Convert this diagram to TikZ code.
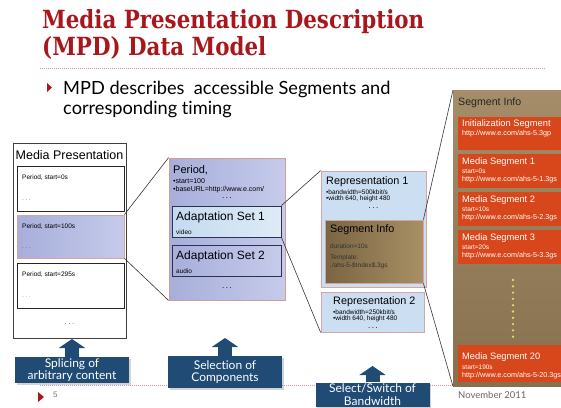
\documentclass[tikz,border=0pt]{standalone}
\usepackage{fontspec}
\setmainfont{Liberation Sans}
\newfontfamily\gillfont{Lato}[Ligatures=NoCommon]
\newfontfamily\slabfont{DejaVu Serif}
\usetikzlibrary{arrows.meta, shadows}
\newcommand{\fsz}[1]{\fontsize{#1}{#1}\selectfont}
\newcommand{\more}{.\hspace{1.6pt}.\hspace{1.6pt}.}
\definecolor{titlered}{HTML}{A8171C}
\definecolor{perdark}{HTML}{A7AEDA}
\definecolor{perlight}{HTML}{C6CBEA}
\definecolor{edgepink}{HTML}{D7A4A4}
\definecolor{navy}{HTML}{27344F}
\definecolor{adaptblue}{HTML}{C4DAF0}
\definecolor{repblue}{HTML}{CBDEF2}
\definecolor{browndark}{HTML}{7A6543}
\definecolor{brownlight}{HTML}{A88F64}
\definecolor{coltop}{HTML}{A48D68}
\definecolor{colbot}{HTML}{86704E}
\definecolor{segorange}{HTML}{D8471B}
\definecolor{dotyellow}{HTML}{EAD66C}
\definecolor{labelblue}{HTML}{1F4B74}

\begin{document}
\begin{tikzpicture}[x=1pt, y=-1pt,
    txt/.style={anchor=west, inner sep=0pt},
    tiny/.style={txt, font=\fsz{6.5}},
    period/.style={draw=black!85, line width=0.9pt, inner sep=0pt},
    chosen/.style={draw=edgepink, line width=0.8pt, inner sep=0pt, left color=perdark, right color=perlight},
    adapt/.style={draw=navy, line width=0.9pt, inner sep=0pt},
    rep/.style={draw=edgepink, line width=0.8pt, inner sep=0pt, fill=repblue},
    chunk/.style={anchor=north west, inner sep=0pt, fill=segorange, minimum width=110pt},
    chunktxt/.style={txt, text=white},
    tag/.style={fill=labelblue, text=white, font=\gillfont\fontsize{12}{12.5}\selectfont, align=center, inner sep=0pt,
        minimum width=114pt, drop shadow={opacity=0.35, shadow xshift=1.5pt, shadow yshift=-1.5pt}},
    lift/.style={labelblue, line width=14pt, -{Triangle[length=9pt, width=26pt]}},
    link/.style={black!80, line width=0.6pt}
]
    \useasboundingbox (0,0) rectangle (561,407);

    % Heading
    \node[anchor=base west, inner sep=0pt, text=titlered, font=\slabfont\bfseries\fsz{25}] (title1) at (42,28)
        {\scalebox{0.855}[1]{Media Presentation Description}};
    \node[anchor=base west, inner sep=0pt, text=titlered, font=\slabfont\bfseries\fsz{25}] (title2) at (42,55)
        {\scalebox{0.855}[1]{(MPD) Data Model}};
    \draw[titlered!45, dash pattern=on 1pt off 1pt] (40,68) -- (545,68);

    \fill[titlered] (47,83) -- (52,87.5) -- (47,92) -- cycle;
    \node[anchor=base west, inner sep=0pt, font=\gillfont\fsz{18.2}] (intro1) at (63,94) {MPD describes\ \ accessible Segments and};
    \node[anchor=base west, inner sep=0pt, font=\gillfont\fsz{18.2}] (intro2) at (63,114) {corresponding timing};

    % Footer line
    \draw[titlered!45, dash pattern=on 1pt off 1pt] (40,385) -- (545,385);

    % Media presentation with its periods
    \node[draw=black!75, line width=1pt, inner sep=0pt, minimum width=113pt, minimum height=195pt] (mp) at (69.5,240.5) {};
    \node[font=\fsz{12.5}, inner sep=0pt] (mptitle) at (69.5,155) {Media Presentation};
    \node[period, minimum width=107pt, minimum height=45pt] (per1) at (70.5,188.5) {};
    \node[tiny] (per1a) at (22,178) {Period, start=0s};
    \node[tiny, text=black!60] (per1b) at (22,200) {\more};
    \node[chosen, minimum width=107pt, minimum height=43pt] (per2) at (70.5,236.5) {};
    \node[tiny] (per2a) at (22,227) {Period, start=100s};
    \node[tiny, text=black!60] (per2b) at (22,248) {\more};
    \node[period, minimum width=107pt, minimum height=45pt] (per3) at (70.5,285.5) {};
    \node[tiny] (per3a) at (22,275) {Period, start=295s};
    \node[tiny, text=black!45] (per3b) at (22,297) {\more};
    \node[font=\fsz{8}, text=black!60, inner sep=0pt] (mpmore) at (69.5,324) {\more};

    % One period opened up
    \node[chosen, draw=edgepink!80!brown, minimum width=116pt, minimum height=142pt] (period) at (227,229) {};
    \node[txt, font=\fsz{11}] (pername) at (173,170) {Period,};
    \node[txt, font=\fsz{7}] (perstart) at (173,181) {\textbullet start=100};
    \node[txt, font=\fsz{7}] (perurl) at (173,189.5) {\textbullet baseURL=http://www.e.com/};
    \node[font=\fsz{8}, inner sep=0pt] (permore) at (227,198.5) {\more};
    \node[adapt, left color=adaptblue, right color=adaptblue!55!white, minimum width=109pt, minimum height=31pt] (as1) at (226.5,221.5) {};
    \node[txt, font=\fsz{12}] (as1name) at (176,217) {Adaptation Set 1};
    \node[tiny] (as1kind) at (176,232) {video};
    \node[adapt, left color=perdark, right color=perlight, minimum width=109pt, minimum height=31pt] (as2) at (226.5,260.5) {};
    \node[txt, font=\fsz{12}] (as2name) at (176,256) {Adaptation Set 2};
    \node[tiny] (as2kind) at (176,271) {audio};
    \node[font=\fsz{8}, inner sep=0pt] (asmore) at (227,288) {\more};

    % Representations
    \node[rep, minimum width=105pt, minimum height=116pt] (rep1) at (373.5,229) {};
    \node[txt, font=\fsz{10.8}] (rep1name) at (326,182) {Representation 1};
    \node[tiny] (rep1bw) at (326,192) {\textbullet bandwidth=500kbit/s};
    \node[tiny] (rep1res) at (326,199) {\textbullet width 640, height 480};
    \node[font=\fsz{8}, inner sep=0pt] (rep1more) at (373.5,208) {\more};
    \node[draw=edgepink, line width=0.8pt, inner sep=0pt, left color=browndark, right color=brownlight,
        minimum width=98pt, minimum height=63pt] (seginfo) at (374,251.5) {};
    \node[txt, font=\fsz{10.8}] (seginame) at (330,230) {Segment Info};
    \node[tiny, text=black!80] (segidur) at (330,246) {duration=10s};
    \node[tiny, text=black!80] (segitpl) at (330,258) {Template:};
    \node[tiny, text=black!80] (segipath) at (330,266) {./ahs-5-\$Index\$.3gs};
    \node[rep, minimum width=103pt, minimum height=40pt] (rep2) at (372.5,312) {};
    \node[txt, font=\fsz{10.8}] (rep2name) at (333,302) {Representation 2};
    \node[tiny] (rep2bw) at (333,312) {\textbullet bandwidth=250kbit/s};
    \node[tiny] (rep2res) at (333,319) {\textbullet width 640, height 480};
    \node[font=\fsz{8}, inner sep=0pt] (rep2more) at (373,328) {\more};

    % Segment list
    \node[anchor=north west, inner sep=0pt, top color=coltop, bottom color=colbot,
        minimum width=115pt, minimum height=296pt] (segcol) at (453,90) {};
    \node[txt, font=\fsz{10.6}, text=black!85] (colname) at (458,103) {Segment Info};
    \node[chunk, minimum height=33pt] (init) at (458,117) {};
    \node[chunktxt, font=\fsz{9.3}] (initname) at (462,124) {Initialization Segment};
    \node[chunktxt, font=\fsz{7.2}] (initurl) at (462,134) {http://www.e.com/ahs-5.3gp};
    \foreach \n/\t/\s in {1/154/0, 2/192/10, 3/230/20} {
        \node[chunk, minimum height=34pt] (seg\n) at (458,\t) {};
        \node[chunktxt, font=\fsz{9.3}] (seg\n name) at (462,\t+8) {Media Segment \n};
        \node[chunktxt, font=\fsz{6.5}] (seg\n start) at (462,\t+17) {start=\s s};
        \node[chunktxt, font=\fsz{7.2}] (seg\n url) at (462,\t+26) {http://www.e.com/ahs-5-\n.3gs};
    }
    \foreach \k in {0,...,9}
        \fill[dotyellow] (513,280+6.3*\k) circle (1.3pt);
    \node[chunk, minimum height=37pt] (seg20) at (458,345) {};
    \node[chunktxt, font=\fsz{9.3}] (seg20name) at (462,357) {Media Segment 20};
    \node[chunktxt, font=\fsz{6.5}] (seg20start) at (462,367) {start=190s};
    \node[chunktxt, font=\fsz{7.2}] (seg20url) at (462,376) {http://www.e.com/ahs-5-20.3gs};

    % Zoom lines
    \draw[link] (per2.north east) -- (period.north west);
    \draw[link] (per2.south east) -- (period.south west);
    \draw[link] (as1.north east) -- (rep1.north west);
    \draw[link] (as1.south east) -- (rep2.south west);
    \draw[link] (seginfo.north east) -- (segcol.north west);
    \draw[link] (seginfo.south east) -- (segcol.south west);

    % What each level allows
    \node[tag, minimum height=26pt] (tag1) at (72,370) {Splicing of\\arbitrary content};
    \node[tag, minimum height=32pt] (tag2) at (225,372) {Selection of\\Components};
    \node[tag, minimum height=24pt] (tag3) at (372.5,394.5) {Select/Switch of\\Bandwidth};
    \coordinate (tip1) at (72,339);
    \coordinate (tip2) at (225,338);
    \coordinate (tip3) at (372.5,366);
    \draw[lift] (tag1.north) -- (tip1);
    \draw[lift] (tag2.north) -- (tip2);
    \draw[lift] (tag3.north) -- (tip3);

    % Page foot
    \fill[titlered] (38,392) -- (44,397) -- (38,402) -- cycle;
    \node[txt, font=\fsz{8}, text=black!55] (pageno) at (53,395) {5};
    \node[txt, font=\gillfont\fsz{9.5}, text=black!60] (date) at (458,395) {November 2011};
\end{tikzpicture}
\end{document}
